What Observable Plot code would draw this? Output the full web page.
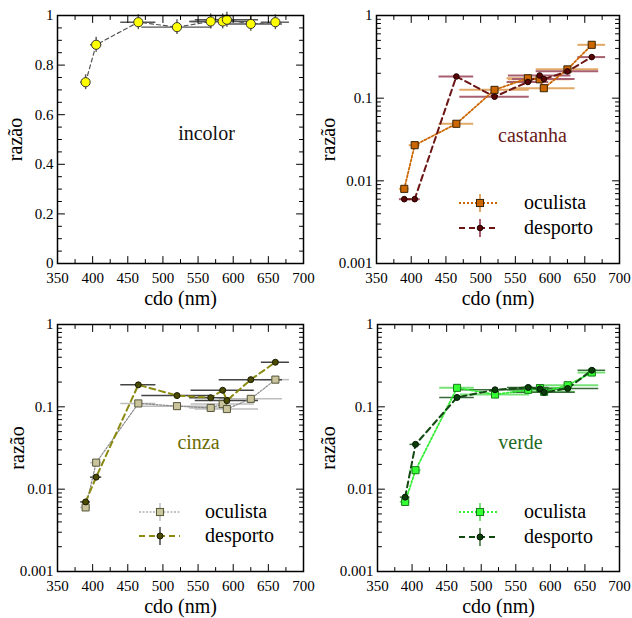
<!DOCTYPE html>
<html><head><meta charset="utf-8">
<script src="https://cdn.jsdelivr.net/npm/d3@7"></script>
<script src="https://cdn.jsdelivr.net/npm/@observablehq/plot@0.6"></script>
<style>
body{margin:0;background:#fff;}
#wrap{position:relative;width:632px;height:618px;background:#fff;}
.panel{position:absolute;}
</style></head><body><div id="wrap"></div>
<script>
// ---- data ----
const cdo = [390, 405, 465, 520, 568, 585, 591, 625, 660];
const cdoErr = [7, 8, 25, 50, 30, 45, 45, 45, 20];
const incolor = [0.731, 0.882, 0.973, 0.953, 0.976, 0.976, 0.983, 0.966, 0.973];
const incolorErr = [0.03, 0.03, 0.03, 0.03, 0.03, 0.03, 0.03, 0.03, 0.03];
const castanhaOculista = [0.008, 0.027, 0.049, 0.126, 0.174, 0.169, 0.132, 0.223, 0.442];
const castanhaDesporto = [0.006, 0.006, 0.183, 0.104, 0.157, 0.188, 0.170, 0.211, 0.314];
const cinzaOculista = [0.006, 0.021, 0.110, 0.102, 0.097, 0.108, 0.094, 0.125, 0.214];
const cinzaDesporto = [0.007, 0.014, 0.185, 0.137, 0.129, 0.159, 0.119, 0.214, 0.348];
const verdeOculista = [0.007, 0.017, 0.170, 0.141, 0.161, 0.169, 0.152, 0.183, 0.261];
const verdeDesporto = [0.008, 0.035, 0.130, 0.161, 0.172, 0.165, 0.150, 0.167, 0.278];
const seriesNames = ["oculista", "desporto"];
const panelNames = ["incolor", "castanha", "cinza", "verde"];
const xLabel = "cdo (nm)";
const yLabel = "razão";
const xMajor = [350, 400, 450, 500, 550, 600, 650, 700];
const xMinor = [375, 425, 475, 525, 575, 625, 675];
const yLinMajor = [0, 0.2, 0.4, 0.6, 0.8, 1];
const yLinMinor = [0.05, 0.1, 0.15, 0.25, 0.3, 0.35, 0.45, 0.5, 0.55, 0.65, 0.7, 0.75, 0.85, 0.9, 0.95];
const yLogMajor = [0.001, 0.01, 0.1, 1];
const yLogMinor = [0.002,0.003,0.004,0.005,0.006,0.007,0.008,0.009,0.02,0.03,0.04,0.05,0.06,0.07,0.08,0.09,0.2,0.3,0.4,0.5,0.6,0.7,0.8,0.9];

// ---- styles ----
const oculistaStyle = {
  castanha: {symbol: "square", r: 4, fill: "#cc6600", stroke: "#3a2200", line: "#cc6600", dash: "2,2", lw: 1.8, err: "#e2a868", errW: 2},
  cinza:    {symbol: "square", r: 4, fill: "#c9c49c", stroke: "#55553a", line: "#8a8a8a", dash: "2,1.5", lw: 1.2, err: "#bdbdbd", errW: 1.5},
  verde:    {symbol: "square", r: 4, fill: "#33ff33", stroke: "#1a7a1a", line: "#33ee33", dash: "2,2", lw: 1.8, err: "#77e277", errW: 2}
};
const desportoStyle = {
  castanha: {symbol: "circle", r: 2.8, fill: "#5a0505", stroke: "#200000", line: "#6b1515", dash: "6,4", lw: 2, err: "#a86070", errW: 2},
  cinza:    {symbol: "circle", r: 3, fill: "#4a4a00", stroke: "#1a1a00", line: "#8a8a10", dash: "6,4", lw: 2, err: "#444444", errW: 1.5},
  verde:    {symbol: "circle", r: 3, fill: "#0b3d0b", stroke: "#001800", line: "#124812", dash: "6,4", lw: 2, err: "#3a6a3a", errW: 1.5}
};
const labelColors = {incolor: "#111", castanha: "#6b1a1a", cinza: "#6b6b00", verde: "#1f6a1f"};

const W = 316, H = 309;
const FONT = "Liberation Serif";
const tickShape = {draw(ctx, l) { ctx.moveTo(0, 0); ctx.lineTo(0, -l); }};

function rows(values, yerr) {
  return cdo.map((x, i) => ({x, xe: cdoErr[i], y: values[i], ye: yerr ? yerr[i] : 0}));
}

function frameTicks(yMajor, yMinor) {
  const s = {stroke: "black", strokeWidth: 1, shape: tickShape, anchor: "start"};
  return [
    Plot.vector(xMajor, {...s, x: d => d, frameAnchor: "bottom", length: 7, rotate: 0}),
    Plot.vector(xMinor, {...s, x: d => d, frameAnchor: "bottom", length: 4, rotate: 0}),
    Plot.vector(xMajor, {...s, x: d => d, frameAnchor: "top", length: 7, rotate: 180}),
    Plot.vector(xMinor, {...s, x: d => d, frameAnchor: "top", length: 4, rotate: 180}),
    Plot.vector(yMajor, {...s, y: d => d, frameAnchor: "left", length: 7, rotate: 90}),
    Plot.vector(yMinor, {...s, y: d => d, frameAnchor: "left", length: 4, rotate: 90}),
    Plot.vector(yMajor, {...s, y: d => d, frameAnchor: "right", length: 7, rotate: -90}),
    Plot.vector(yMinor, {...s, y: d => d, frameAnchor: "right", length: 4, rotate: -90})
  ];
}

function seriesMarks(data, st, vbars) {
  const m = [
    Plot.ruleY(data, {y: "y", x1: d => d.x - d.xe, x2: d => d.x + d.xe, stroke: st.err, strokeWidth: st.errW})
  ];
  if (vbars) m.push(Plot.ruleX(data, {x: "x", y1: d => d.y - d.ye, y2: d => d.y + d.ye, stroke: st.err, strokeWidth: st.errW}));
  return m;
}
function lineMarks(data, st) {
  return [Plot.line(data, {x: "x", y: "y", stroke: st.line, strokeWidth: st.lw, strokeDasharray: st.dash})];
}
function dotMarks(data, st) {
  return [Plot.dot(data, {x: "x", y: "y", symbol: st.symbol, r: st.r, fill: st.fill, stroke: st.stroke, strokeWidth: 1})];
}

function makePanel(cfg) {
  const isLog = cfg.log;
  const yMajor = isLog ? yLogMajor : yLinMajor;
  const yMinor = isLog ? yLogMinor : yLinMinor;
  const marks = [];
  cfg.series.forEach(s => marks.push(...seriesMarks(s.data, s.style, s.vbars)));
  cfg.series.forEach(s => marks.push(...lineMarks(s.data, s.style)));
  cfg.series.forEach(s => marks.push(...dotMarks(s.data, s.style)));
  marks.push(
    Plot.frame({stroke: "black", strokeWidth: 1.5}),
    ...frameTicks(yMajor, yMinor),
    Plot.axisX(xMajor, {tickSize: 0, tickPadding: 9, label: null, fontSize: 15, fontFamily: FONT, tickFormat: d => String(d)}),
    Plot.axisY(yMajor, {tickSize: 0, tickPadding: 4, label: null, fontSize: 15, fontFamily: FONT, tickFormat: d => String(d)}),
    Plot.text([xLabel], {text: d => d, frameAnchor: "bottom", dy: 35, fontSize: 20, fontFamily: FONT, textAnchor: "middle", lineAnchor: "middle"}),
    Plot.text([yLabel], {text: d => d, frameAnchor: "left", dx: cfg.ylabDx, rotate: -90, fontSize: 20, fontFamily: FONT, textAnchor: "middle", lineAnchor: "middle"}),
    Plot.text([cfg.name], {text: d => d, frameAnchor: "top-left", dx: cfg.labX - cfg.ml, dy: cfg.labY - 15, fontSize: 20, fontFamily: FONT, fill: labelColors[cfg.name], textAnchor: "middle", lineAnchor: "middle"})
  );
  const svg = Plot.plot({
    width: W, height: H,
    marginLeft: cfg.ml, marginRight: 13, marginTop: 15, marginBottom: cfg.mb,
    x: {domain: [350, 700]},
    y: isLog ? {type: "log", domain: [0.001, 1]} : {domain: [0, 1]},
    style: {fontFamily: FONT},
    marks
  });
  if (cfg.legend) {
    const g = d3.select(svg).append("g").attr("font-family", FONT);
    const L = cfg.legend;
    cfg.series.forEach((s, i) => {
      const st = s.style, y = L.y[i];
      g.append("line").attr("x1", L.x0).attr("x2", L.x1).attr("y1", y).attr("y2", y)
        .attr("stroke", st.line).attr("stroke-width", st.lw).attr("stroke-dasharray", st.dash);
      g.append("line").attr("x1", L.xm).attr("x2", L.xm).attr("y1", y - 9).attr("y2", y + 9)
        .attr("stroke", st.err).attr("stroke-width", st.errW);
      if (st.symbol === "square") {
        const a = st.r * Math.sqrt(Math.PI);
        g.append("rect").attr("x", L.xm - a / 2).attr("y", y - a / 2).attr("width", a).attr("height", a)
          .attr("fill", st.fill).attr("stroke", st.stroke);
      } else {
        g.append("circle").attr("cx", L.xm).attr("cy", y).attr("r", st.r).attr("fill", st.fill).attr("stroke", st.stroke);
      }
      g.append("text").attr("x", L.tx).attr("y", y).attr("dy", "0.32em").attr("font-size", 20)
        .attr("font-family", FONT).attr("text-anchor", "start").attr("fill", "black").text(seriesNames[i]);
    });
  }
  const div = document.createElement("div");
  div.className = "panel";
  div.style.left = cfg.left + "px";
  div.style.top = cfg.top + "px";
  div.appendChild(svg);
  document.getElementById("wrap").appendChild(div);
}

const panels = [
  {name: panelNames[0], left: 0, top: 0, ml: 57, mb: 46, log: false, ylabDx: -42, labX: 206, labY: 133,
   series: [{data: rows(incolor, incolorErr), vbars: true,
     style: {symbol: "circle", r: 4.6, fill: "#ffff00", stroke: "#333", line: "#555", dash: "4,3", lw: 1.2, err: "#555", errW: 1.4}}]},
  {name: panelNames[1], left: 316, top: 0, ml: 60, mb: 46, log: true, ylabDx: -48, labX: 216, labY: 135,
   series: [{data: rows(castanhaOculista), style: oculistaStyle.castanha}, {data: rows(castanhaDesporto), style: desportoStyle.castanha}],
   legend: {x0: 143, x1: 182, xm: 164, tx: 208, y: [203, 228]}},
  {name: panelNames[2], left: 0, top: 309, ml: 57, mb: 47, log: true, ylabDx: -40, labX: 198, labY: 133,
   series: [{data: rows(cinzaOculista), style: oculistaStyle.cinza}, {data: rows(cinzaDesporto), style: desportoStyle.cinza}],
   legend: {x0: 139, x1: 180, xm: 160, tx: 205, y: [203, 227]}},
  {name: panelNames[3], left: 316, top: 309, ml: 61, mb: 47, log: true, ylabDx: -49, labX: 204, labY: 133,
   series: [{data: rows(verdeOculista), style: oculistaStyle.verde}, {data: rows(verdeDesporto), style: desportoStyle.verde}],
   legend: {x0: 143, x1: 182, xm: 164, tx: 208, y: [203, 228]}}
];
panels.forEach(makePanel);
</script></body></html>
